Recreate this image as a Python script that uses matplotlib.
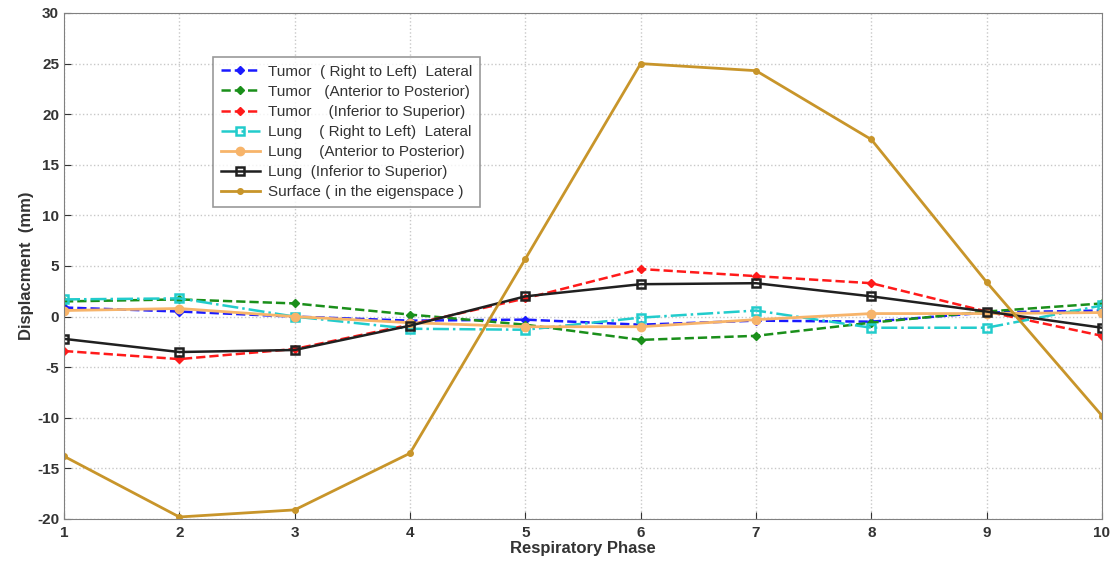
import matplotlib
matplotlib.use("Agg")
import matplotlib.pyplot as plt

phase = [1, 2, 3, 4, 5, 6, 7, 8, 9, 10]
tumor_rl = [0.9, 0.5, 0.0, -0.4, -0.3, -0.8, -0.4, -0.5, 0.4, 0.6]
tumor_ap = [1.5, 1.7, 1.3, 0.2, -0.8, -2.3, -1.9, -0.6, 0.5, 1.3]
tumor_is = [-3.4, -4.2, -3.2, -0.8, 1.8, 4.7, 4.0, 3.3, 0.5, -1.9]
lung_rl = [1.7, 1.8, 0.0, -1.2, -1.3, -0.1, 0.6, -1.1, -1.1, 1.1]
lung_ap = [0.6, 0.8, 0.0, -0.6, -1.0, -1.0, -0.3, 0.3, 0.3, 0.4]
lung_is = [-2.2, -3.5, -3.3, -0.9, 2.0, 3.2, 3.3, 2.0, 0.5, -1.1]
surface = [-13.8, -19.8, -19.1, -13.5, 5.7, 25.0, 24.3, 17.5, 3.4, -9.8]

labels = ["Tumor  ( Right to Left)  Lateral",
          "Tumor   (Anterior to Posterior)",
          "Tumor    (Inferior to Superior)",
          "Lung    ( Right to Left)  Lateral",
          "Lung    (Anterior to Posterior)",
          "Lung  (Inferior to Superior)",
          "Surface ( in the eigenspace )"]

plt.rcParams['font.family'] = ['Liberation Sans', 'DejaVu Sans']
plt.rcParams['axes.unicode_minus'] = False

fig = plt.figure(figsize=(11.15, 5.69), dpi=100)
ax = fig.add_axes([64/1115, 1-519/569, (1102-64)/1115, (519-13)/569])

ax.plot(phase, tumor_rl, color='#1a1aff', ls='--', lw=1.8, marker='D', ms=4, label=labels[0])
ax.plot(phase, tumor_ap, color='#1a8f1a', ls='--', lw=1.8, marker='D', ms=4, label=labels[1])
ax.plot(phase, tumor_is, color='#ff1a1a', ls='--', lw=1.8, marker='D', ms=4, label=labels[2])
ax.plot(phase, lung_rl, color='#22cccc', ls='-.', lw=1.8, marker='s', ms=6, mfc='none', mew=1.8, label=labels[3])
ax.plot(phase, lung_ap, color='#f7b46a', ls='-', lw=2.0, marker='o', ms=6, label=labels[4])
ax.plot(phase, lung_is, color='#202020', ls='-', lw=1.8, marker='s', ms=6, mfc='none', mew=1.8, label=labels[5])
ax.plot(phase, surface, color='#c8952a', ls='-', lw=2.0, marker='o', ms=4, label=labels[6])

ax.set_xlim(1, 10)
ax.set_ylim(-20, 30)
ax.set_xticks(phase)
ax.set_yticks(range(-20, 31, 5))
ax.grid(True, ls=':', color='#c8c8c8', lw=1.0)
for s in ax.spines.values():
    s.set_color('#808080')
ax.tick_params(colors='#333333', labelsize=11, direction='in', length=5)
ax.tick_params(axis='x', pad=5)
for t in ax.get_xticklabels() + ax.get_yticklabels():
    t.set_fontweight('bold')
    t.set_color('#333333')
ax.set_xlabel('Respiratory Phase', fontsize=12, fontweight='bold', color='#333333', labelpad=1)
ax.set_ylabel('Displacment  (mm)', fontsize=12, fontweight='bold', color='#333333', labelpad=2)

leg = ax.legend(loc='upper left', bbox_to_anchor=(0.1435, 0.913), fontsize=11,
                frameon=True, fancybox=False, edgecolor='#808080', handlelength=2.6,
                borderpad=0.5, labelspacing=0.4, handletextpad=0.5, borderaxespad=0)
leg.get_frame().set_linewidth(1.2)
for t in leg.get_texts():
    t.set_color('#333333')

fig.savefig('out.png', dpi=100)
